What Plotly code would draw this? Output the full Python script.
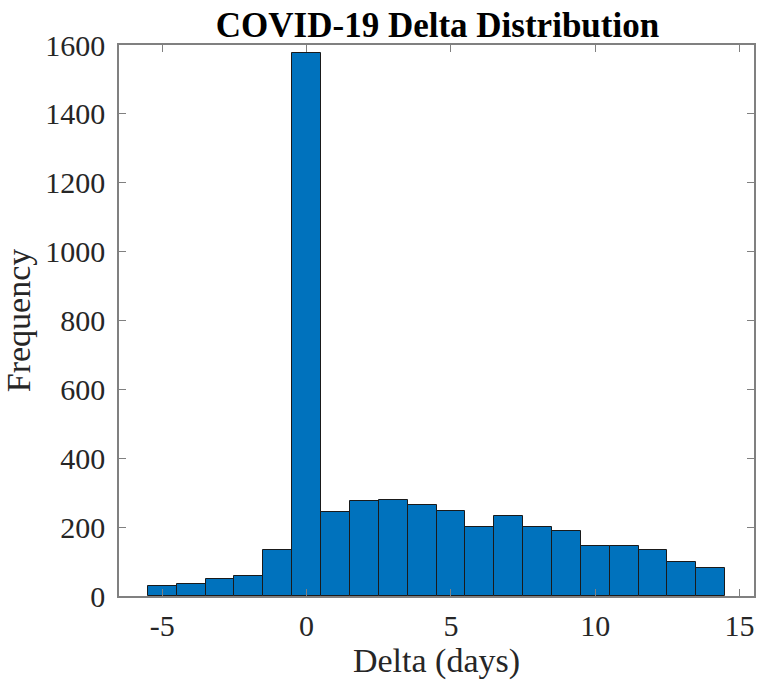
import plotly.graph_objects as go

# Histogram bin centers (days) and counts per bin
delta_days = [-5, -4, -3, -2, -1, 0, 1, 2, 3, 4, 5, 6, 7, 8, 9, 10, 11, 12, 13, 14]
frequency = [28, 34, 48, 59, 134, 1578, 245, 275, 278, 264, 246, 200, 232, 200, 188, 144, 144, 134, 100, 82]

x_ticks = [-5, 0, 5, 10, 15]
x_tick_labels = ["-5", "0", "5", "10", "15"]
y_ticks = [0, 200, 400, 600, 800, 1000, 1200, 1400, 1600]

FONT = "Liberation Serif, Times New Roman, serif"
AXIS_GRAY = "#808080"
TEXT = "#262626"

fig = go.Figure(
    go.Bar(
        x=delta_days,
        y=frequency,
        width=1,
        marker=dict(color="#0072BD", line=dict(color="#1a1a1a", width=1)),
    )
)

axis_common = dict(
    showline=True,
    linecolor=AXIS_GRAY,
    linewidth=1.5,
    mirror="ticks",
    ticks="inside",
    ticklen=7,
    tickcolor=AXIS_GRAY,
    tickwidth=1.2,
    showgrid=False,
    zeroline=False,
    tickfont=dict(family=FONT, size=30, color=TEXT),
)

fig.update_layout(
    width=762,
    height=688,
    margin=dict(l=119, r=6, t=45, b=92),
    paper_bgcolor="white",
    plot_bgcolor="white",
    bargap=0,
    showlegend=False,
    title=dict(
        text="<b>COVID-19 Delta Distribution</b>",
        font=dict(family=FONT, size=35, color="black"),
        x=(119 + 756) / 2 / 762,
        xanchor="center",
        y=1 - 25 / 688,
        yanchor="middle",
    ),
    xaxis=dict(
        axis_common,
        range=[-6.5, 15.5],
        tickvals=x_ticks,
        ticktext=x_tick_labels,
        ticklabelstandoff=2,
        title=dict(text="Delta (days)", font=dict(family=FONT, size=34, color=TEXT), standoff=6),
    ),
    yaxis=dict(
        axis_common,
        range=[0, 1600],
        tickvals=y_ticks,
        ticklabelstandoff=6,
        title=dict(text="Frequency", font=dict(family=FONT, size=34, color=TEXT), standoff=5),
    ),
)

fig.write_html("out.html")
